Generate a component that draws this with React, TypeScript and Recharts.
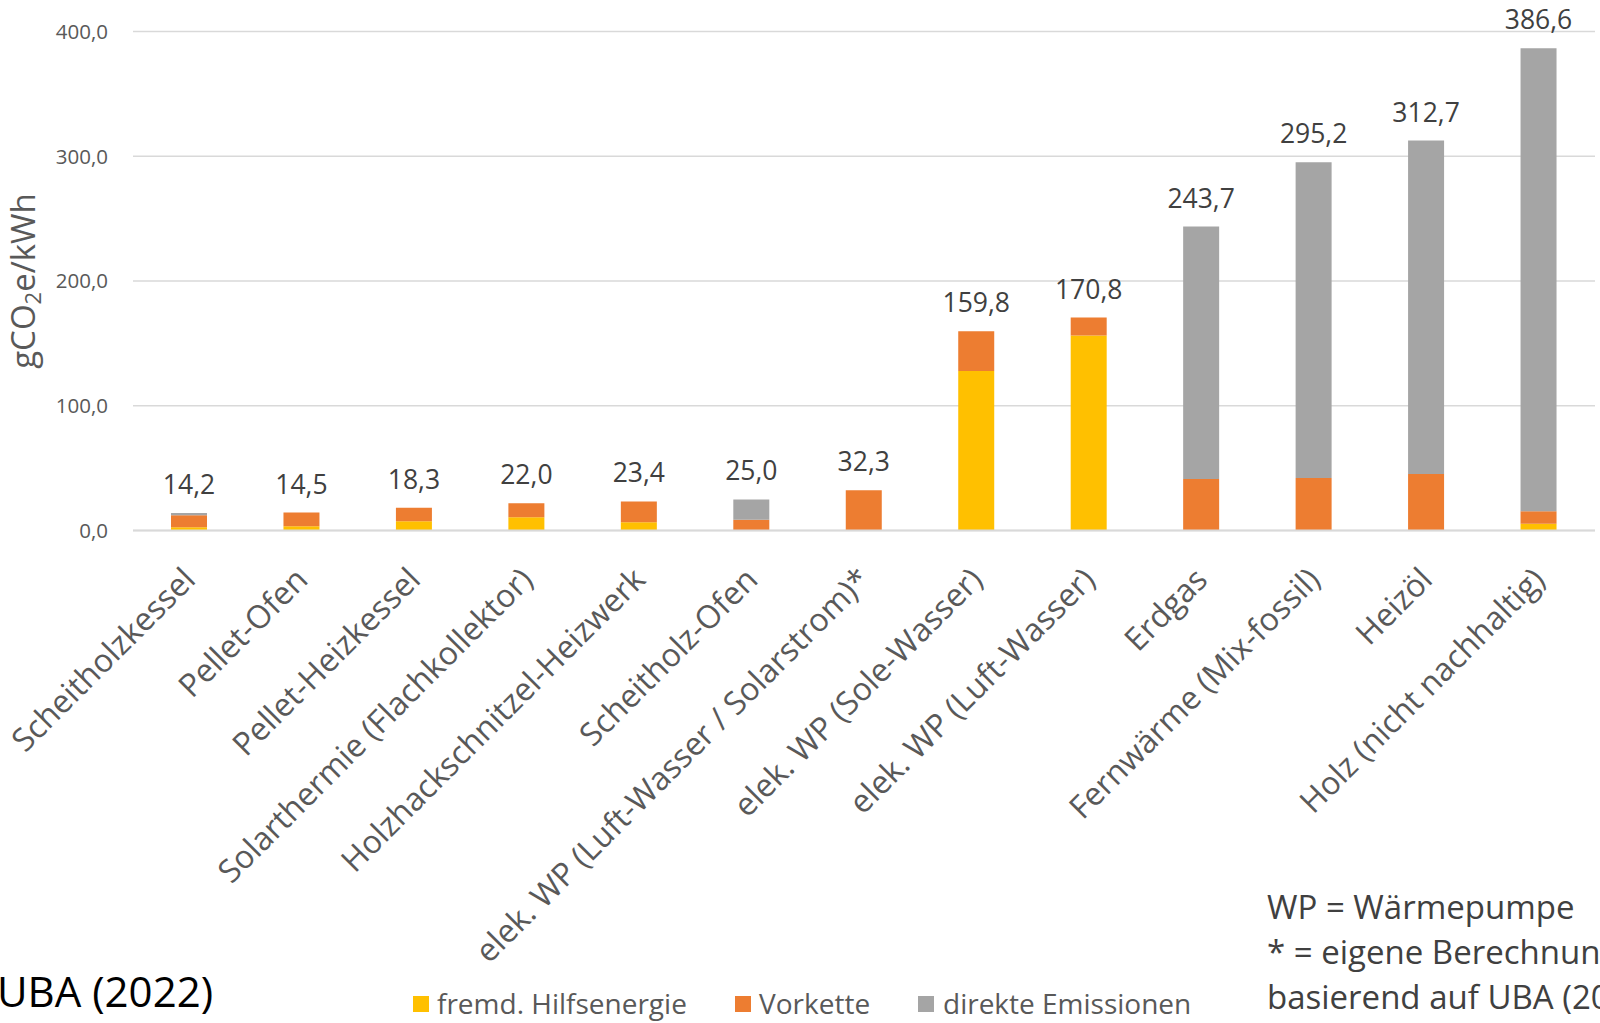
import React from "react";
import { BarChart, Bar, XAxis, YAxis, CartesianGrid, LabelList, Legend, Customized } from "recharts";

const categories = [
  "Scheitholzkessel",
  "Pellet-Ofen",
  "Pellet-Heizkessel",
  "Solarthermie (Flachkollektor)",
  "Holzhackschnitzel-Heizwerk",
  "Scheitholz-Ofen",
  "elek. WP (Luft-Wasser / Solarstrom)*",
  "elek. WP (Sole-Wasser)",
  "elek. WP (Luft-Wasser)",
  "Erdgas",
  "Fernwärme (Mix-fossil)",
  "Heizöl",
  "Holz (nicht nachhaltig)",
];
const fremdHilfsenergie = [2.7, 3.5, 7.5, 10.7, 6.7, 0, 0, 128.0, 156.4, 0, 0, 0, 5.4];
const vorkette = [9.7, 11.0, 10.8, 11.3, 16.7, 8.6, 32.3, 31.8, 14.4, 41.4, 42.2, 45.4, 10.1];
const direkteEmissionen = [1.8, 0, 0, 0, 0, 16.4, 0, 0, 0, 202.3, 253.0, 267.3, 371.1];
const totals = [14.2, 14.5, 18.3, 22.0, 23.4, 25.0, 32.3, 159.8, 170.8, 243.7, 295.2, 312.7, 386.6];
const yTicks = [0, 100, 200, 300, 400];
const seriesNames = ["fremd. Hilfsenergie", "Vorkette", "direkte Emissionen"];
const seriesColors = ["#FFC000", "#ED7D31", "#A5A5A5"];
const footnotes = ["WP = Wärmepumpe", "* = eigene Berechnung", "basierend auf UBA (2022)"];
const sourceText = "UBA (2022)";

// the total label goes on the topmost non-empty segment of each stack
const data = categories.map((name, i) => {
  const topIsDirekt = direkteEmissionen[i] > 0;
  const topIsVorkette = !topIsDirekt && vorkette[i] > 0;
  const topIsFremd = !topIsDirekt && !topIsVorkette;
  return {
    name,
    fremd: fremdHilfsenergie[i],
    vorkette: vorkette[i],
    direkt: direkteEmissionen[i],
    labelF: topIsFremd ? totals[i] : null,
    labelV: topIsVorkette ? totals[i] : null,
    labelD: topIsDirekt ? totals[i] : null,
  };
});

const FONT = "'Open Sans', 'Noto Sans', sans-serif";
const fmt = (v: number) => v.toFixed(1).replace(".", ",");

const XTick = (props: any) => {
  const { x, y, payload } = props;
  const ax = x + 8;
  const ay = y + 43;
  return (
    <text
      x={ax}
      y={ay}
      transform={`rotate(-45, ${ax}, ${ay})`}
      textAnchor="end"
      fontSize={32}
      fill="#595959"
      fontFamily={FONT}
    >
      {payload.value}
    </text>
  );
};

const TopLabel = (props: any) => {
  const { x, y, width, value } = props;
  if (value === null || value === undefined || value === "") return null;
  return (
    <text
      x={Number(x) + Number(width) / 2}
      y={Number(y) - 19}
      textAnchor="middle"
      fontSize={26.5}
      fill="#404040"
      fontFamily={FONT}
    >
      {fmt(Number(value))}
    </text>
  );
};

const LegendContent = () => {
  const items = [
    { sq: 413, tx: 437 },
    { sq: 735, tx: 759 },
    { sq: 918, tx: 943 },
  ];
  return (
    <div style={{ position: "relative", width: 0, height: 0 }}>
      {items.map((it, i) => (
        <React.Fragment key={i}>
          <div
            style={{
              position: "absolute",
              left: it.sq,
              top: 996,
              width: 16,
              height: 16,
              background: seriesColors[i],
            }}
          />
          <div
            style={{
              position: "absolute",
              left: it.tx,
              top: 984,
              whiteSpace: "nowrap",
              fontFamily: FONT,
              fontSize: 28,
              lineHeight: "38px",
              color: "#595959",
            }}
          >
            {seriesNames[i]}
          </div>
        </React.Fragment>
      ))}
    </div>
  );
};

const Annotations = () => (
  <g fontFamily={FONT}>
    <text x={26} y={281} transform="rotate(-90, 26, 281)" textAnchor="middle" dominantBaseline="middle" fontSize={33} fill="#595959">
      <tspan>gCO</tspan>
      <tspan fontSize={22} dy={9}>2</tspan>
      <tspan dy={-9}>e/kWh</tspan>
    </text>
    <text x={-3} y={1007} fontSize={42} fill="#000000">{sourceText}</text>
    {footnotes.map((t, i) => (
      <text key={i} x={1267} y={919 + i * 45} fontSize={33} fill="#404040">{t}</text>
    ))}
  </g>
);

export default function App() {
  return (
    <div style={{ position: "absolute", left: 0, top: 0, width: 1600, height: 1023, background: "#fff", overflow: "hidden" }}>
      <BarChart
        width={1600}
        height={1023}
        data={data}
        margin={{ top: 31.6, right: 5, left: 0, bottom: 0 }}
        barSize={36}
      >
        <CartesianGrid vertical={false} stroke="#D9D9D9" strokeWidth={1.5} />
        <XAxis
          dataKey="name"
          interval={0}
          height={492.4}
          tickLine={false}
          axisLine={{ stroke: "#D9D9D9", strokeWidth: 2 }}
          tick={<XTick />}
        />
        <YAxis
          width={133}
          domain={[0, 400]}
          ticks={yTicks}
          tickFormatter={fmt}
          tickLine={false}
          axisLine={false}
          tickSize={0}
          tickMargin={25}
          tick={{ fontSize: 20.5, fill: "#595959", fontFamily: FONT }}
        />
        <Legend
          content={<LegendContent />}
          wrapperStyle={{ position: "absolute", left: 0, top: 0, width: 0, height: 0, overflow: "visible" }}
        />
        <Bar dataKey="fremd" name={seriesNames[0]} stackId="a" fill={seriesColors[0]} isAnimationActive={false}>
          <LabelList dataKey="labelF" content={<TopLabel />} />
        </Bar>
        <Bar dataKey="vorkette" name={seriesNames[1]} stackId="a" fill={seriesColors[1]} isAnimationActive={false}>
          <LabelList dataKey="labelV" content={<TopLabel />} />
        </Bar>
        <Bar dataKey="direkt" name={seriesNames[2]} stackId="a" fill={seriesColors[2]} isAnimationActive={false}>
          <LabelList dataKey="labelD" content={<TopLabel />} />
        </Bar>
        <Customized component={<Annotations />} />
      </BarChart>
    </div>
  );
}
